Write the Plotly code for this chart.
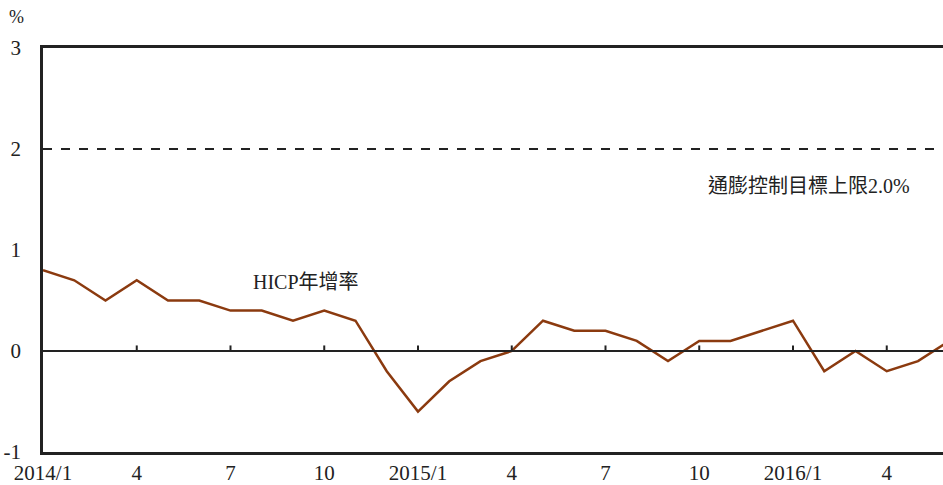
import plotly.graph_objects as go

months = ["2014/1","2014/2","2014/3","2014/4","2014/5","2014/6","2014/7","2014/8","2014/9","2014/10","2014/11","2014/12",
          "2015/1","2015/2","2015/3","2015/4","2015/5","2015/6","2015/7","2015/8","2015/9","2015/10","2015/11","2015/12",
          "2016/1","2016/2","2016/3","2016/4","2016/5","2016/6"]
hicp = [0.8,0.7,0.5,0.7,0.5,0.5,0.4,0.4,0.3,0.4,0.3,-0.2,
        -0.6,-0.3,-0.1,0.0,0.3,0.2,0.2,0.1,-0.1,0.1,0.1,0.2,
        0.3,-0.2,0.0,-0.2,-0.1,0.1]
target = 2.0
tick_idx = [0,3,6,9,12,15,18,21,24,27]
tick_text = ["2014/1","4","7","10","2015/1","4","7","10","2016/1","4"]
y_ticks = [-1,0,1,2,3]
y_tick_text = ["-1","0","1","2","3"]

FONT = "Liberation Serif, Noto Sans CJK TC, serif"
x = list(range(len(months)))

fig = go.Figure()
fig.add_trace(go.Scatter(x=x, y=hicp, mode="lines", line=dict(color="#8B3A0F", width=2.5),
                         hoverinfo="skip", showlegend=False))

shapes = [
    dict(type="line", xref="paper", yref="y", x0=0, x1=1, y0=0, y1=0, line=dict(color="#222", width=2)),
    dict(type="line", xref="paper", yref="y", x0=0, x1=1, y0=target, y1=target, line=dict(color="#222", width=1.8, dash="dash")),
]
for t in tick_idx[1:]:
    shapes.append(dict(type="line", xref="x", yref="y", x0=t, x1=t, y0=0, y1=0.055, line=dict(color="#222", width=2)))

fig.update_layout(
    width=943, height=485,
    margin=dict(l=43, r=0, t=48, b=33),
    paper_bgcolor="white", plot_bgcolor="white",
    font=dict(family=FONT, size=21, color="#222"),
    shapes=shapes,
    xaxis=dict(range=[0, 28.8], tickvals=tick_idx, ticktext=tick_text, showgrid=False, zeroline=False,
               showline=True, linecolor="#222", linewidth=2.5, mirror=True, ticks="", tickfont=dict(size=21)),
    yaxis=dict(range=[-1, 3], tickvals=y_ticks, ticktext=y_tick_text, showgrid=False, zeroline=False,
               showline=True, linecolor="#222", linewidth=2.5, ticks="", ticklabelstandoff=15,
               tickfont=dict(size=21)),
    annotations=[
        dict(text="%", xref="paper", yref="paper", x=-0.029, y=1.077, xanchor="center", yanchor="middle",
             showarrow=False, font=dict(size=18)),
        dict(text="通膨控制目標上限2.0%", xref="x", yref="y", x=24.5, y=1.63, showarrow=False, font=dict(size=20)),
        dict(text="HICP年增率", xref="x", yref="y", x=8.4, y=0.68, showarrow=False, font=dict(size=20)),
    ],
)

fig.write_html("out.html", config={"displayModeBar": False},
               post_script="document.body.style.margin='0';document.body.style.overflow='hidden';")
